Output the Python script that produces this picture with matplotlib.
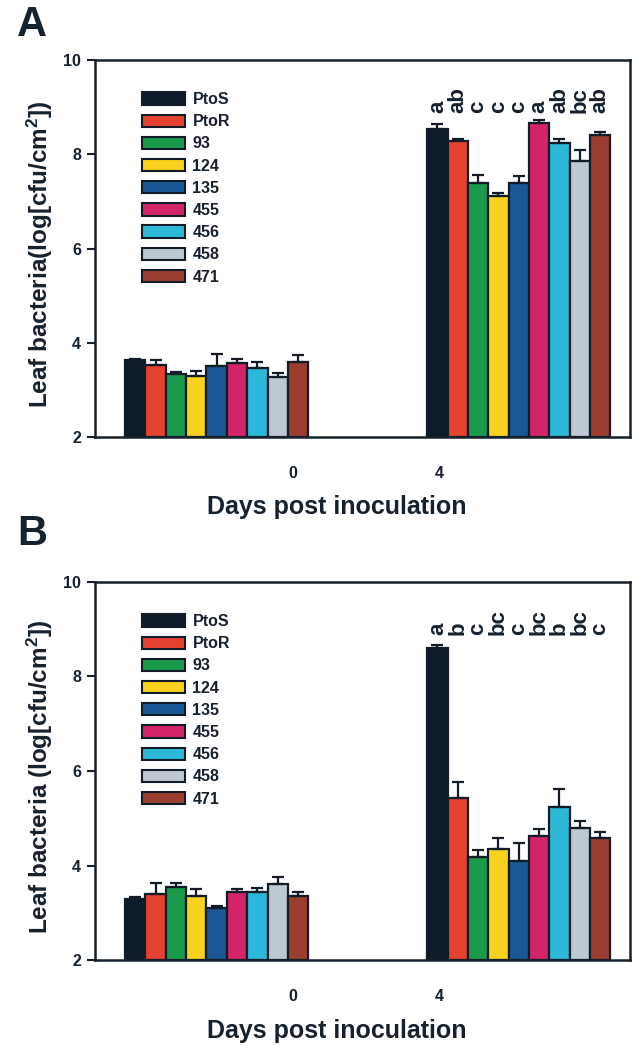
import matplotlib
matplotlib.use('Agg')
import matplotlib.pyplot as plt
from matplotlib.patches import Patch

plt.rcParams['font.family'] = ['Liberation Sans', 'DejaVu Sans']
plt.rcParams['font.weight'] = 'bold'
plt.rcParams['mathtext.fontset'] = 'custom'
plt.rcParams['mathtext.bf'] = 'Liberation Sans:bold'
plt.rcParams['mathtext.rm'] = 'Liberation Sans:bold'
plt.rcParams['mathtext.default'] = 'bf'

strains = ['PtoS', 'PtoR', '93', '124', '135', '455', '456', '458', '471']
colors = ['#0e1b2a', '#e5432f', '#1c9a4b', '#f8d21e', '#1b5794',
          '#d42468', '#2db8d8', '#bec8d2', '#9b3e2f']
day_labels = ['0', '4']

a_day0 = [3.63, 3.53, 3.34, 3.30, 3.51, 3.56, 3.47, 3.27, 3.59]
a_day0_err = [0.03, 0.10, 0.05, 0.10, 0.25, 0.10, 0.13, 0.08, 0.14]
a_day4 = [8.54, 8.28, 7.40, 7.12, 7.40, 8.66, 8.23, 7.86, 8.41]
a_day4_err = [0.10, 0.05, 0.16, 0.05, 0.13, 0.07, 0.09, 0.23, 0.07]
a_letters = ['a', 'ab', 'c', 'c', 'c', 'a', 'ab', 'bc', 'ab']

b_day0 = [3.30, 3.40, 3.55, 3.35, 3.10, 3.45, 3.45, 3.60, 3.35]
b_day0_err = [0.03, 0.22, 0.08, 0.15, 0.05, 0.05, 0.08, 0.15, 0.10]
b_day4 = [8.60, 5.42, 4.19, 4.36, 4.10, 4.62, 5.23, 4.79, 4.59]
b_day4_err = [0.07, 0.34, 0.13, 0.22, 0.37, 0.16, 0.38, 0.16, 0.11]
b_letters = ['a', 'b', 'c', 'bc', 'c', 'bc', 'b', 'bc', 'c']

INK = '#16212e'
EDGE = '#121c28'
group_left = [1.48, 16.33]
tick_pos = [9.74, 16.92]
XMAX = 26.3

fig = plt.figure(figsize=(6.36, 10.45), dpi=100)
ax_a = fig.add_axes([0.1494, 0.5818, 0.8412, 0.3608])
ax_b = fig.add_axes([0.1494, 0.0813, 0.8412, 0.3618])


def draw(ax, d0, e0, d4, e4, letters, ylabel, panel, panel_y):
    for g, (vals, errs) in enumerate([(d0, e0), (d4, e4)]):
        xs = [group_left[g] + 0.5 + i for i in range(len(vals))]
        ax.bar(xs, [v - 2 for v in vals], bottom=2, width=1.0, color=colors,
               edgecolor=EDGE, linewidth=1.6, zorder=2)
        ax.errorbar(xs, vals, yerr=[[0] * len(errs), errs], fmt='none',
                    ecolor=EDGE, elinewidth=1.6, capsize=4.5, capthick=1.6,
                    zorder=3)
        if g == 1:
            for x, t in zip(xs, letters):
                ax.text(x, 8.88, t, rotation=90, ha='center', va='bottom',
                        fontsize=16, fontweight='bold', color=INK)
    ax.set_xlim(0, XMAX)
    ax.set_ylim(2, 10)
    ax.set_yticks([2, 4, 6, 8, 10])
    ax.set_xticks(tick_pos)
    ax.set_xticklabels(day_labels)
    ax.tick_params(axis='x', length=0, pad=21, labelsize=11.5, colors=INK)
    ax.tick_params(axis='y', length=6, width=1.5, pad=4, labelsize=11.5,
                   colors=INK, direction='out')
    for s in ax.spines.values():
        s.set_linewidth(1.8)
        s.set_color(INK)
    ax.set_ylabel(ylabel, fontsize=17.5, fontweight='bold', color=INK)
    ax.yaxis.set_label_coords(-0.075, 0.485)
    ax.set_xlabel('Days post inoculation', fontsize=18, fontweight='bold',
                  color=INK, va='top')
    ax.xaxis.set_label_coords(0.452, -0.155)
    handles = [Patch(facecolor=c, edgecolor=EDGE, linewidth=1.5) for c in colors]
    ax.legend(handles, strains, loc='upper left', bbox_to_anchor=(0.088, 0.915),
              frameon=False, borderpad=0, borderaxespad=0, handlelength=2.7,
              handleheight=0.8, labelspacing=0.45, handletextpad=0.45,
              prop={'weight': 'bold', 'size': 11.5}, labelcolor=INK)
    ax.text(-0.145, panel_y, panel, transform=ax.transAxes, fontsize=30,
            fontweight='bold', color=INK, ha='left', va='bottom')


draw(ax_a, a_day0, a_day0_err, a_day4, a_day4_err, a_letters,
     r'Leaf bacteria(log[cfu/cm$^{2}$])', 'A', 1.04)
draw(ax_b, b_day0, b_day0_err, b_day4, b_day4_err, b_letters,
     r'Leaf bacteria (log[cfu/cm$^{2}$])', 'B', 1.075)

fig.savefig('out.png', dpi=100)
